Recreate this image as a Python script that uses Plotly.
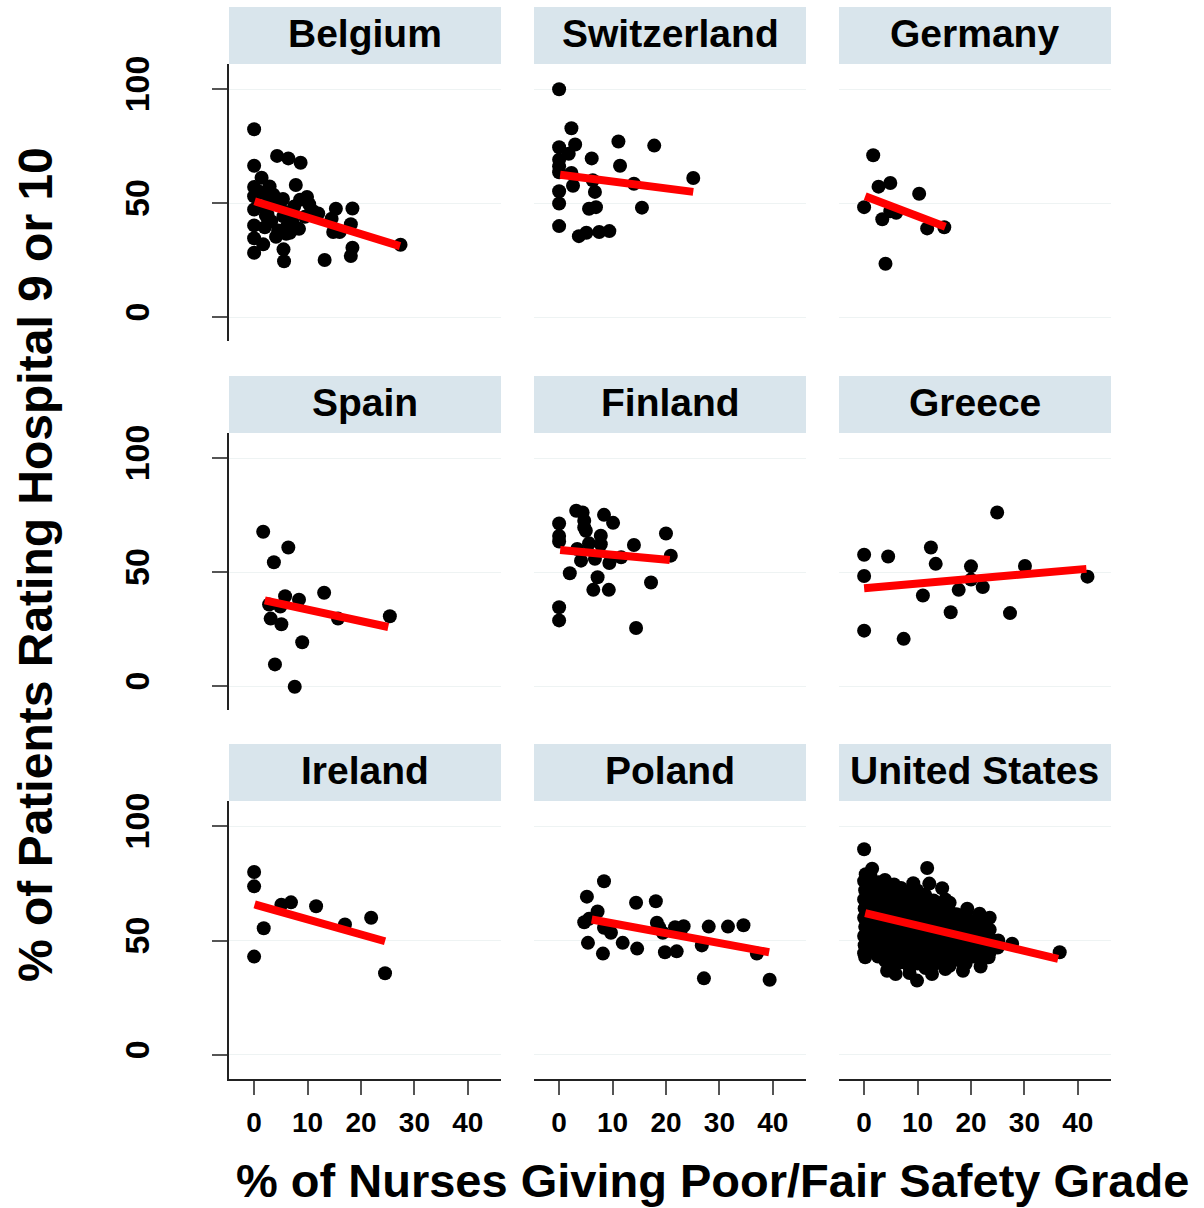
import plotly.graph_objects as go

# ---- data ----
countries = ["Belgium", "Switzerland", "Germany",
             "Spain", "Finland", "Greece",
             "Ireland", "Poland", "United States"]

belgium_x = [0, 4.3, 6.4, 8.7, 0, 1.4, 0, 2.9, 7.8, 0, 1.7, 3.6, 5.4, 8.6, 9.9, 10.3, 0, 2.0, 2.2, 5.5,
             6.7, 12.0, 15.3, 18.4, 14.5, 18.1, 14.8, 16.0, 0, 2.0, 6.2, 8.4, 4.1, 6.7, 0, 1.7, 0, 5.5, 5.6, 13.2,
             18.4, 18.1, 27.4, 1.0, 3.0, 4.8, 5.8, 7.2, 2.5, 9.5, 11.0, 3.2, 4.5, 6.0, 7.5]
belgium_y = [82.4, 70.7, 69.6, 67.7, 66.4, 61.1, 57.1, 57.3, 57.9, 53.0, 54.4, 53.7, 51.8, 51.5, 52.7, 49.5, 47.2, 48.6, 44.5, 44.2,
             42.8, 45.4, 47.5, 47.6, 43.1, 40.7, 37.3, 37.3, 40.2, 39.4, 39.9, 38.7, 35.2, 37.0, 34.6, 31.9, 28.2, 29.7, 24.5, 25.0,
             30.4, 26.8, 31.7, 55.0, 50.5, 49.0, 46.0, 41.5, 45.0, 44.0, 46.5, 42.0, 38.0, 36.5, 48.5]

switzerland_x = [0, 2.3, 0, 3.0, 1.8, 11.1, 17.8, 0, 0, 6.1, 11.4, 0, 2.3, 6.3, 2.6, 14.0, 25.1, 0, 6.7, 0,
                 5.6, 6.9, 15.5, 0, 3.7, 5.1, 7.5, 9.4]
switzerland_y = [99.9, 82.8, 74.5, 75.7, 71.6, 77.0, 75.2, 69.0, 66.1, 69.6, 66.4, 63.5, 63.2, 60.0, 57.6, 58.5, 61.0, 55.2, 54.9, 49.8,
                 47.5, 48.2, 48.0, 39.9, 35.5, 37.0, 37.3, 37.7]

germany_x = [1.7, 2.7, 4.9, 10.3, 0, 3.4, 6.0, 4.9, 11.8, 15.0, 4.0]
germany_y = [71.0, 57.2, 58.8, 54.1, 48.2, 42.9, 45.7, 46.4, 38.9, 39.4, 23.4]

spain_x = [1.7, 6.4, 3.7, 13.1, 5.8, 8.4, 2.8, 4.9, 3.1, 5.1, 15.7, 25.4, 9.0, 3.9, 7.6]
spain_y = [67.7, 60.8, 54.3, 40.9, 39.4, 37.9, 35.8, 34.9, 29.6, 27.1, 29.6, 30.6, 19.2, 9.5, -0.3]

finland_x = [3.2, 4.4, 8.4, 0, 4.7, 10.1, 4.7, 5.0, 0, 7.8, 0, 5.6, 7.8, 14.0, 20.0, 3.4, 20.9, 11.6, 6.7, 9.4,
             4.1, 2.0, 7.2, 17.2, 6.4, 9.3, 0, 0, 14.4]
finland_y = [76.9, 76.1, 75.1, 71.3, 72.5, 71.6, 69.6, 68.1, 65.8, 65.9, 63.4, 62.6, 62.2, 61.9, 66.9, 60.1, 57.2, 56.5, 55.8, 54.0,
             55.0, 49.5, 47.7, 45.4, 42.2, 42.2, 34.6, 28.8, 25.5]

greece_x = [24.9, 0, 4.5, 12.5, 13.4, 20.0, 30.1, 0, 20.0, 41.8, 22.2, 17.7, 11.0, 16.2, 27.3, 0, 7.4]
greece_y = [76.1, 57.6, 56.8, 60.8, 53.6, 52.5, 52.7, 48.3, 46.7, 48.0, 43.4, 42.2, 39.7, 32.4, 32.0, 24.3, 20.7]

ireland_x = [0, 0, 5.1, 6.9, 11.6, 17.0, 21.9, 1.8, 0, 24.5]
ireland_y = [80.0, 73.7, 65.7, 66.7, 65.0, 57.0, 60.0, 55.4, 43.0, 35.7]

poland_x = [8.4, 5.2, 14.4, 18.1, 7.2, 4.7, 5.6, 8.4, 9.7, 18.3, 18.7, 19.4, 21.7, 23.3, 22.7, 28.0, 31.6, 34.5, 5.4, 11.9,
            14.6, 8.2, 19.8, 22.0, 26.7, 37.0, 27.1, 39.4]
poland_y = [75.9, 69.2, 66.5, 67.2, 62.7, 58.0, 59.5, 55.6, 53.4, 57.8, 55.8, 53.4, 55.8, 56.3, 53.7, 56.1, 56.1, 56.7, 49.0, 49.0,
            46.5, 44.3, 44.9, 45.3, 47.9, 44.3, 33.5, 32.9]

us_pts = [
    (0, 89.9), (11.8, 81.7), (1.5, 81.4), (36.6, 44.9), (27.7, 48.6), (9.9, 32.5), (4.3, 36.8), (5.9, 35.4), (8.5, 35.8), (12.7, 35.4),
    (15.2, 37.6), (18.5, 36.8), (21.8, 38.7), (18.0, 41.2), (23.3, 42.7), (0.2, 42.7), (23.5, 54.7), (23.5, 60.0), (21.6, 61.7), (19.3, 63.9),
    (14.6, 72.9), (12.2, 74.9), (9.2, 75.1), (15.2, 68.0), (11.8, 68.3),
    (0, 44.5), (0.1, 48), (0, 52), (0.2, 56), (0, 60), (0.1, 64), (0, 68), (0.2, 72), (0, 76), (0.3, 79),
    (1.3, 46), (1.1, 50.5), (1.4, 54), (1.2, 58.5), (1.5, 62), (1.3, 66.5), (1.1, 70), (1.4, 74), (1.2, 78),
    (2.6, 43), (2.8, 47.5), (2.5, 51), (2.7, 55.5), (2.4, 59), (2.6, 63.5), (2.9, 67), (2.5, 71.5), (2.7, 75.5),
    (4.0, 41), (4.2, 45), (3.9, 49.5), (4.1, 53), (4.0, 57.5), (3.8, 61), (4.2, 65.5), (4.0, 69), (4.1, 73.5), (3.9, 76.5),
    (5.5, 39), (5.6, 43.5), (5.3, 47), (5.5, 51.5), (5.7, 55), (5.4, 59.5), (5.6, 63), (5.5, 67.5), (5.3, 71), (5.6, 74.5),
    (7.0, 40.5), (7.1, 45), (6.9, 49), (7.2, 53.5), (7.0, 57), (6.8, 61.5), (7.1, 65), (7.0, 69.5), (6.9, 73),
    (8.5, 38.5), (8.6, 42.5), (8.4, 47.5), (8.7, 51), (8.5, 55.5), (8.3, 59), (8.6, 63.5), (8.5, 67), (8.4, 71),
    (10.0, 40), (10.1, 44.5), (9.9, 48.5), (10.2, 53), (10.0, 56.5), (9.8, 61), (10.1, 64.5), (10.0, 68.5), (9.9, 72),
    (11.5, 38), (11.6, 42), (11.4, 46.5), (11.7, 50), (11.5, 54.5), (11.3, 58), (11.6, 62.5), (11.5, 66), (11.4, 70),
    (13.0, 39.5), (13.1, 44), (12.9, 48), (13.2, 52.5), (13.0, 56), (12.8, 60.5), (13.1, 64), (13.0, 67.5),
    (14.5, 41), (14.6, 45.5), (14.4, 49.5), (14.7, 53), (14.5, 57.5), (14.3, 61), (14.6, 65),
    (16.0, 39), (16.1, 43.5), (15.9, 47), (16.2, 51.5), (16.0, 55), (15.8, 59), (16.1, 62.5), (16.0, 66.5),
    (17.5, 42), (17.6, 46.5), (17.4, 50), (17.7, 54), (17.5, 57.5), (17.3, 61.5),
    (19.0, 40), (19.1, 44), (18.9, 48.5), (19.2, 52.5), (19.0, 56), (18.8, 59.5), (19.1, 62),
    (20.5, 43), (20.6, 47), (20.4, 51), (20.7, 55), (20.5, 58.5),
    (22.0, 41.5), (22.1, 45.5), (21.9, 49.5), (22.2, 53.5), (22.0, 57),
    (23.5, 45), (23.6, 48), (23.4, 51.5), (25.0, 47), (25.1, 50),
]
us_x = [p[0] for p in us_pts]
us_y = [p[1] for p in us_pts]

# fitted regression lines, start/end
fit_x0 = [0.1, 0.2, 0.2, 2.0, 0.2, 0.0, 0.1, 6.1, 0.2]
fit_y0 = [50.8, 62.4, 53.0, 37.6, 59.7, 42.9, 65.8, 59.2, 62.0]
fit_x1 = [27.3, 25.1, 15.2, 25.1, 20.7, 41.6, 24.5, 39.3, 36.3]
fit_y1 = [31.1, 54.9, 39.6, 25.9, 55.3, 51.4, 49.7, 44.9, 42.0]

xs = [belgium_x, switzerland_x, germany_x, spain_x, finland_x, greece_x, ireland_x, poland_x, us_x]
ys = [belgium_y, switzerland_y, germany_y, spain_y, finland_y, greece_y, ireland_y, poland_y, us_y]

x_ticks = [0, 10, 20, 30, 40]
y_ticks = [0, 50, 100]

# ---- layout geometry (pixels) ----
W, H = 1204, 1208
col_px = [(229, 501), (534, 806), (839, 1111)]
row_px = [(64, 341), (433, 710), (801, 1079)]
strip_px = [(7, 64), (376, 433), (744, 801)]

BOLD = "Liberation Sans, Arial, sans-serif"
STRIP = "#d9e5ec"

fig = go.Figure()
layout = dict(
    width=W, height=H,
    margin=dict(l=0, r=0, t=0, b=0, autoexpand=False),
    paper_bgcolor="white", plot_bgcolor="white",
    showlegend=False,
)
shapes, annotations = [], []

for i, name in enumerate(countries):
    r, c = divmod(i, 3)
    s = "" if i == 0 else str(i + 1)
    fig.add_trace(go.Scatter(
        x=xs[i], y=ys[i], mode="markers",
        marker=dict(color="black", size=14, line=dict(width=0)),
        xaxis="x" + s, yaxis="y" + s, hoverinfo="skip",
    ))
    fig.add_trace(go.Scatter(
        x=[fit_x0[i], fit_x1[i]], y=[fit_y0[i], fit_y1[i]], mode="lines",
        line=dict(color="#ff0000", width=8),
        xaxis="x" + s, yaxis="y" + s, hoverinfo="skip",
    ))

    x0, x1 = col_px[c]
    y0, y1 = row_px[r]
    layout["xaxis" + s] = dict(
        domain=[x0 / W, x1 / W], range=[-4.7, 46.2], anchor="y" + s, automargin=False,
        showgrid=False, zeroline=False,
        showline=(r == 2), linecolor="#222", linewidth=1.5,
        ticks="outside" if r == 2 else "", ticklen=14, tickcolor="#555", tickwidth=1.5,
        tickvals=x_ticks, showticklabels=(r == 2), ticklabelstandoff=4,
        tickfont=dict(family=BOLD, size=28, color="black", weight="bold"),
    )
    layout["yaxis" + s] = dict(
        domain=[1 - y1 / H, 1 - y0 / H], range=[-10.5, 111], anchor="x" + s, automargin=False,
        showgrid=True, gridcolor="#eef3f3", gridwidth=1, zeroline=False,
        showline=(c == 0), linecolor="#222", linewidth=1.5,
        ticks="outside" if c == 0 else "", ticklen=15, tickcolor="#555", tickwidth=1.5,
        tickvals=y_ticks, showticklabels=(c == 0), tickangle=-90, ticklabelstandoff=50,
        tickfont=dict(family=BOLD, size=34, color="black", weight="bold"),
    )

    sy0, sy1 = strip_px[r]
    shapes.append(dict(
        type="rect", xref="paper", yref="paper",
        x0=x0 / W, x1=x1 / W, y0=1 - sy1 / H, y1=1 - sy0 / H,
        fillcolor=STRIP, line=dict(width=0), layer="below",
    ))
    annotations.append(dict(
        text=name, xref="paper", yref="paper",
        x=(x0 + x1) / 2 / W, y=1 - (sy0 + sy1 - 4) / 2 / H,
        xanchor="center", yanchor="middle", showarrow=False,
        font=dict(family=BOLD, size=39, color="black", weight="bold"),
    ))

annotations.append(dict(
    text="% of Nurses Giving Poor/Fair Safety Grade", xref="paper", yref="paper",
    x=712 / W, y=1 - 1180 / H, xanchor="center", yanchor="middle", showarrow=False,
    font=dict(family=BOLD, size=47, color="black", weight="bold"),
))
annotations.append(dict(
    text="% of Patients Rating Hospital 9 or 10", xref="paper", yref="paper",
    x=35 / W, y=1 - 565 / H, xanchor="center", yanchor="middle", showarrow=False,
    textangle=-90,
    font=dict(family=BOLD, size=48, color="black", weight="bold"),
))

layout["shapes"] = shapes
layout["annotations"] = annotations
fig.update_layout(**layout)

fig.write_html("out.html", config={"displayModeBar": False},
               post_script="document.body.style.margin='0';")
